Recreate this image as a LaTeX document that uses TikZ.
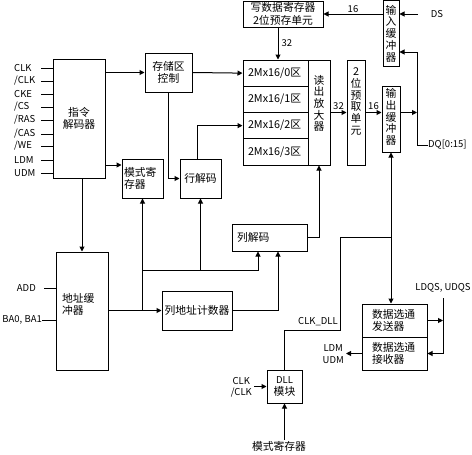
\documentclass[tikz,border=0pt]{standalone}
\usepackage{fontspec}
\setmainfont{Noto Sans CJK SC}
\usetikzlibrary{arrows.meta, positioning, calc}

\newcommand{\zhsize}{\fontsize{10.8}{12.5}\selectfont}
\newcommand{\pinsize}{\fontsize{9.5}{11.5}\selectfont}

\tikzset{
  blk/.style={draw, line width=1pt, inner sep=2pt, font=\zhsize, align=center},
  sz/.style 2 args={minimum width=#1pt, minimum height=#2pt},
  lft/.style={align=left, text width=#1},
  vtxt/.style={font=\fontsize{10.8}{11.7}\selectfont, inner ysep=0pt},
  wire/.style={line width=1pt},
  arr/.style={line width=1pt, -{Triangle[length=5pt, width=5pt]}},
  pin/.style={font=\pinsize, inner sep=0pt},
  pin2/.style={pin, align=center, inner xsep=2pt},
}

\begin{document}
\begin{tikzpicture}[x=1pt, y=-1pt]
\useasboundingbox (0,0) rectangle (472,455);

% command side
\node[blk, sz={52}{119}] (dec) at (79,118.5) {指令\\解码器};
\node[blk, sz={47}{39}] (ctrl) at (168.5,72.5) {存储区\\控制};
\node[blk, sz={41}{39}, lft=37pt] (mode) at (142.5,178.5) {模式寄\\存器};
\node[blk, sz={41}{39}] (row) at (200.5,178.5) {行解码};

\foreach \y/\nm [count=\k] in {68/CLK, 81/{/CLK}, 94/CKE, 107/{/CS}, 120/{/RAS},
    134/{/CAS}, 146/{/WE}, 160/LDM, 173/UDM}{
  \node[pin, anchor=west] (pin\k) at (14,\y) {\nm};
  \coordinate (pinend\k) at (41,\y);
  \draw[wire] (pinend\k) -- (dec.west |- pinend\k);
}

% address side
\node[blk, sz={52}{118}, lft=40pt, text depth=27pt] (addbuf) at (82,311) {地址缓\\冲器};
\node[blk, sz={70}{39}] (colcnt) at (197,310.5) {列地址计数器};
\node[blk, sz={75}{27}, lft=65pt] (coldec) at (269.5,237.5) {列解码};
\node[pin, anchor=east] (add) at (36,288) {ADD};
\coordinate (addend) at (44,288);
\node[pin, anchor=east] (ba) at (42,320) {BA0, BA1};

% banks and data path
\foreach \bk in {0,...,3}
  \node[blk, sz={65}{26.25}, lft=55pt] (bank\bk) at (275.5,{73.125+\bk*26.25}) {2Mx16/\bk{}区};
\node[blk, vtxt, sz={22}{105}, text depth=19pt] (amp) at (319,112.5) {读\\出\\放\\大\\器};
\node[blk, sz={80}{26}, inner ysep=1pt] (wreg) at (283,14) {写数据寄存器\\2位预存单元};
\node[blk, vtxt, sz={18}{105}, text depth=23pt] (pre) at (356,112.5) {2\\位\\预\\取\\单\\元};
\node[blk, vtxt, sz={18}{66}, text depth=5pt] (obuf) at (391,119) {输\\出\\缓\\冲\\器};
\node[blk, vtxt, sz={16}{66}] (ibuf) at (391,33.5) {输\\入\\缓\\冲\\器};
\node[pin] (ds) at (437,14) {DS};
\node[pin, anchor=west] (dq) at (428,145) {DQ[0:15]};

% strobe and DLL
\node[blk, sz={65}{33}, lft=45pt] (dqss) at (394.5,320.5) {数据选通\\发送器};
\node[blk, sz={65}{33}, lft=45pt] (dqsr) at (394.5,353.5) {数据选通\\接收器};
\node[blk, sz={35}{33}] (dll) at (284.5,386.5) {{\pinsize DLL}\\模块};
\node[pin] (dqsname) at (443,288) {LDQS, UDQS};
\node[pin2, anchor=east] (dmout) at (346,354) {LDM\\UDM};
\node[pin2, anchor=east] (clkin) at (254,387.5) {CLK\\/CLK};
\node[pin] (clkdll) at (318,322) {CLK\_DLL};
\node[font=\zhsize, inner sep=1pt] (mrin) at (279,446) {模式寄存器};

% connections
\draw[arr] (ctrl.west -| dec.east) -- (ctrl.west);
\draw[arr] (ctrl.east) -- (bank0.west);
\draw[arr] (ctrl.south) |- (row.west);
\coordinate (modein) at ($(mode.west)+(0,-13.5)$);
\draw[arr] (modein -| dec.east) -- (modein);
\coordinate (rowout) at ([xshift=-3.5pt]row.north);
\draw[arr] (rowout) |- (bank2.west);
\draw[arr] (addbuf.north |- dec.south) -- (addbuf.north);
\draw[wire] (addend) -- (addbuf.west |- addend);
\draw[wire] (ba.east) -- (addbuf.west |- ba.east);
\draw[arr] (addbuf.east |- colcnt.west) -- (colcnt.west);
\coordinate (abus) at (mode.south |- colcnt.west);
\coordinate (rbus) at (142.5,270);
\draw[arr] (abus) -- (mode.south);
\draw[arr] (rbus) -| ([xshift=-11.5pt]coldec.south);
\draw[arr] (rbus -| row.south) -- (row.south);
\draw[arr] (colcnt.east) -| ([xshift=8.5pt]coldec.south);
\draw[arr] (coldec.east) -| (amp.south);

\coordinate (wbus) at ([xshift=-5pt]wreg.south);
\draw[arr] (wbus) -- (wbus |- bank0.north) node[pin, midway, right=3pt] {32};
\draw[arr] (amp.east) -- (pre.west) node[pin, midway, above=2pt] {32};
\draw[arr] (pre.east) -- (obuf.west |- pre.east) node[pin, midway, above=2pt] {16};
\coordinate (dqbus) at (417,52);
\draw[arr] (obuf.east |- pre.east) -- (dqbus |- pre.east);
\draw[arr] (dq.west) -| (dqbus) -- (ibuf.east |- dqbus);
\draw[arr] (ibuf.west |- wreg.east) -- (wreg.east) node[pin, midway, above=1pt] {16};
\coordinate (dsin) at (418,14);
\draw[arr] (dsin) -- (ibuf.east |- dsin);

\coordinate (dllbend) at (340,330);
\coordinate (dllbus) at (391,237);
\draw[wire] (dll.north) |- (dllbend) |- (dllbus);
\draw[arr] (dllbus) -- (obuf.south);
\draw[arr] (dllbus) -- (dllbus |- dqss.north);
\draw[arr] (dll.west -| clkin.east) -- (dll.west);
\draw[arr] (mrin.north -| dll.south) -- (dll.south);
\coordinate (lqtop) at (443,298);
\draw[arr] (dqss.east) -- (dqss.east -| lqtop);
\draw[arr] (lqtop) |- (dqsr.east);
\draw[arr] (dqsr.west) -- (dmout.east |- dqsr.west);
\end{tikzpicture}
\end{document}
